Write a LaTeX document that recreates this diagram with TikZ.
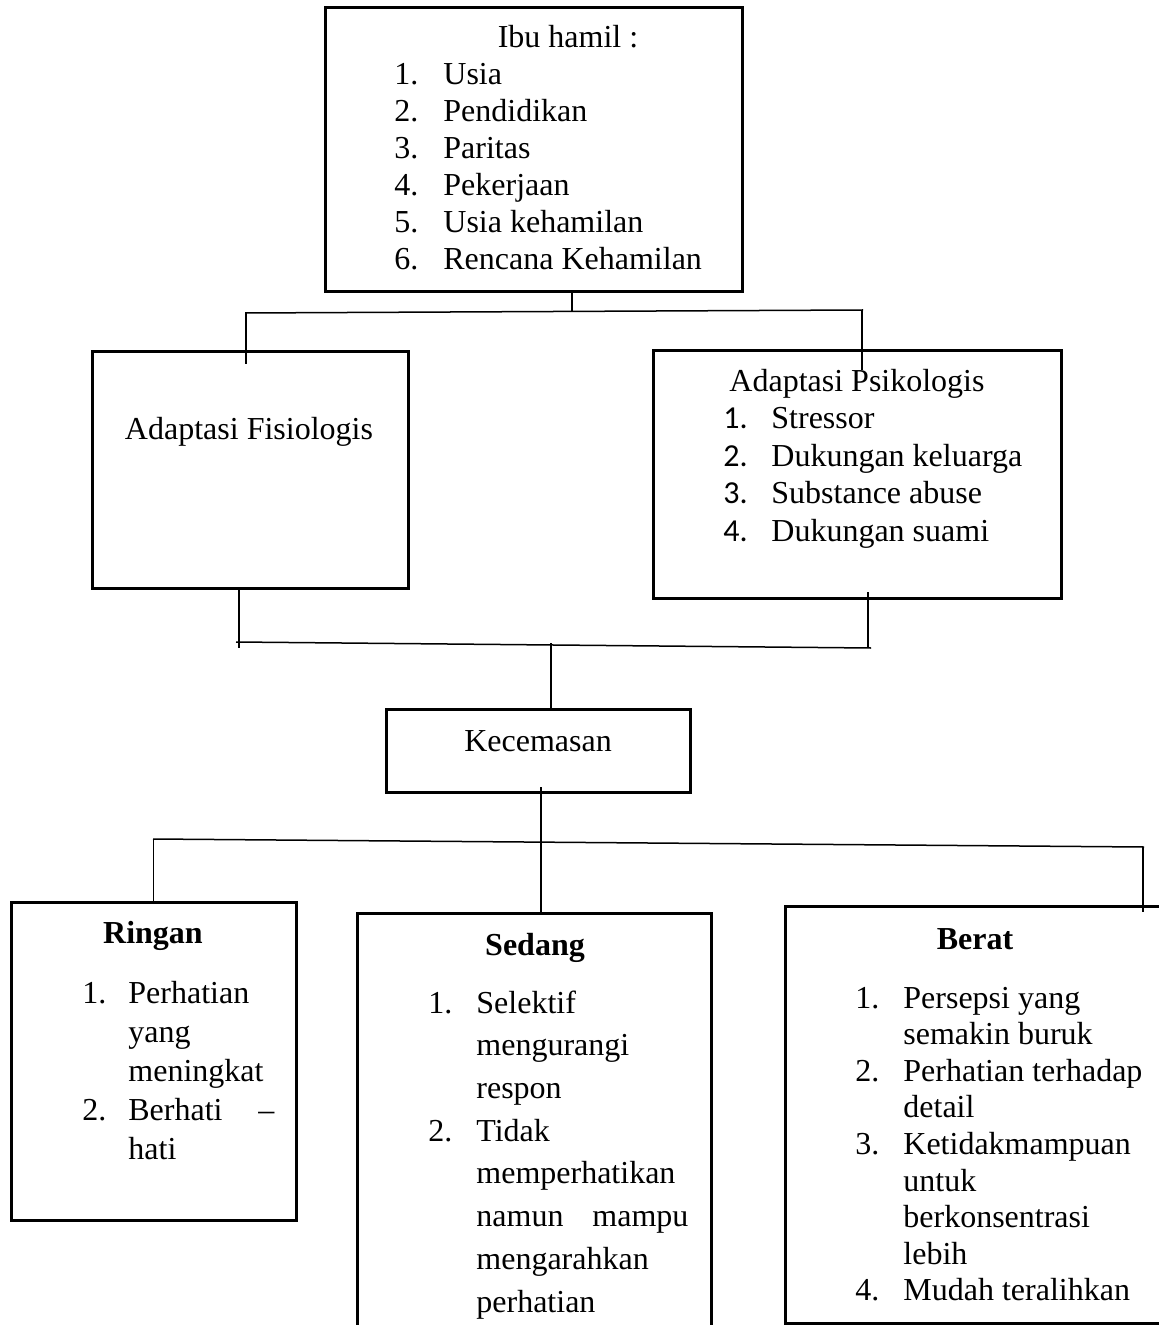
\documentclass[tikz,border=0pt]{standalone}
\usepackage{fontspec}
\setmainfont{Liberation Serif}
\newfontfamily\numfont{Carlito}
\usetikzlibrary{fit}

% number + text of one list row
\newcommand{\itm}[3][24pt]{\makebox[#1][l]{#2}#3}

\begin{document}
\begin{tikzpicture}[x=0.5pt,y=-0.5pt,
  box/.style={draw=black, line width=1.5pt, inner sep=0pt},
  hdr/.style={inner sep=0pt, anchor=base, font=\fontsize{16}{18.5}\selectfont},
  lst/.style={inner sep=0pt, anchor=base west, font=\fontsize{16}{#1}\selectfont},
  ln/.style={draw=black, line width=0.75pt}
]
  \useasboundingbox (0,0) rectangle (1159,1325);
  \clip (0,0) rectangle (1159,1325);

  % boxes
  \node[box, fit={(325,8)(742,292)}]    (ibu) {};
  \node[box, fit={(92,352)(408,588)}]   (fis) {};
  \node[box, fit={(653,351)(1061,598)}] (psi) {};
  \node[box, fit={(386,709)(690,792)}]  (kec) {};
  \node[box, fit={(11,902)(296,1220)}]  (rin) {};
  \node[box, fit={(357,913)(711,1345)}] (sed) {};
  \node[box, fit={(785,906)(1172,1323)}] (ber) {};

  % texts
  \node[hdr] (ibuhdr) at (568,48) {Ibu hamil :};
  \node[lst=18.5pt] (ibulst) at (394,85) {\begin{tabular}[t]{@{}l@{}}
    \itm[24.5pt]{1.}{Usia}\\
    \itm[24.5pt]{2.}{Pendidikan}\\
    \itm[24.5pt]{3.}{Paritas}\\
    \itm[24.5pt]{4.}{Pekerjaan}\\
    \itm[24.5pt]{5.}{Usia kehamilan}\\
    \itm[24.5pt]{6.}{Rencana Kehamilan}
  \end{tabular}};

  \node[hdr] (fishdr) at (249,440) {Adaptasi Fisiologis};

  \node[hdr] (psihdr) at (857,392) {Adaptasi Psikologis};
  \node[lst=18.75pt] (psilst) at (723,429) {\begin{tabular}[t]{@{}l@{}}
    \itm{\numfont 1.}{Stressor}\\
    \itm{\numfont 2.}{Dukungan keluarga}\\
    \itm{\numfont 3.}{Substance abuse}\\
    \itm{\numfont 4.}{Dukungan suami}
  \end{tabular}};

  \node[hdr] (kechdr) at (538,751) {Kecemasan};

  \node[hdr, font=\fontsize{16}{18.5}\selectfont\bfseries] (rinhdr) at (153,943) {Ringan};
  \node[lst=19.6pt] (rinlst) at (82,1003) {\begin{tabular}[t]{@{}l@{}}
    \itm[23pt]{1.}{Perhatian}\\
    \itm[23pt]{}{yang}\\
    \itm[23pt]{}{meningkat}\\
    \itm[23pt]{2.}{\makebox[73pt][l]{Berhati\hfill –}}\\
    \itm[23pt]{}{hati}
  \end{tabular}};

  \node[hdr, font=\fontsize{16}{18.5}\selectfont\bfseries] (sedhdr) at (535,955) {Sedang};
  \node[lst=21.36pt] (sedlst) at (428,1013) {\begin{tabular}[t]{@{}l@{}}
    \itm{1.}{Selektif}\\
    \itm{}{mengurangi}\\
    \itm{}{respon}\\
    \itm{2.}{Tidak}\\
    \itm{}{memperhatikan}\\
    \itm{}{\makebox[106pt][l]{namun\hfill mampu}}\\
    \itm{}{mengarahkan}\\
    \itm{}{perhatian}
  \end{tabular}};

  \node[hdr, font=\fontsize{16}{18.5}\selectfont\bfseries] (berhdr) at (975,949) {Berat};
  \node[lst=18.3pt] (berlst) at (855,1008) {\begin{tabular}[t]{@{}l@{}}
    \itm{1.}{Persepsi yang}\\
    \itm{}{semakin buruk}\\
    \itm{2.}{Perhatian terhadap}\\
    \itm{}{detail}\\
    \itm{3.}{Ketidakmampuan}\\
    \itm{}{untuk}\\
    \itm{}{berkonsentrasi}\\
    \itm{}{lebih}\\
    \itm{4.}{Mudah teralihkan}
  \end{tabular}};

  % top branch
  \coordinate (t0) at (572,311);
  \coordinate (tl) at (245,313);
  \coordinate (tr) at (863,310);
  \coordinate (fisin) at (246,364);
  \coordinate (psiin) at (862,370);
  \draw[ln] (ibu.south -| t0) -- (t0);
  \draw[ln] (tl) -- (tr);
  \draw[ln] (tl -| fisin) -- (fisin);
  \draw[ln] (tr -| psiin) -- (psiin);

  % middle branch
  \coordinate (ml) at (236,642);
  \coordinate (mr) at (871,648);
  \coordinate (mc) at (551,643);
  \coordinate (fisout) at (239,648);
  \coordinate (psiout) at (868,592);
  \coordinate (psiend) at (868,648);
  \draw[ln] (fis.south -| fisout) -- (fisout);
  \draw[ln] (psiout) -- (psiend);
  \draw[ln] (ml) -- (mr);
  \draw[ln] (mc) -- (kec.north -| mc);

  % bottom branch
  \coordinate (bl) at (153,839);
  \coordinate (br) at (1144,847);
  \coordinate (kecout) at (541,787);
  \coordinate (berin) at (1143,912);
  \draw[ln] (bl) -- (br);
  \draw[ln] (bl -| rin.north) -- (rin.north);
  \draw[ln] (kecout) -- (sed.north -| kecout);
  \draw[ln] (br -| berin) -- (berin);
\end{tikzpicture}
\end{document}
